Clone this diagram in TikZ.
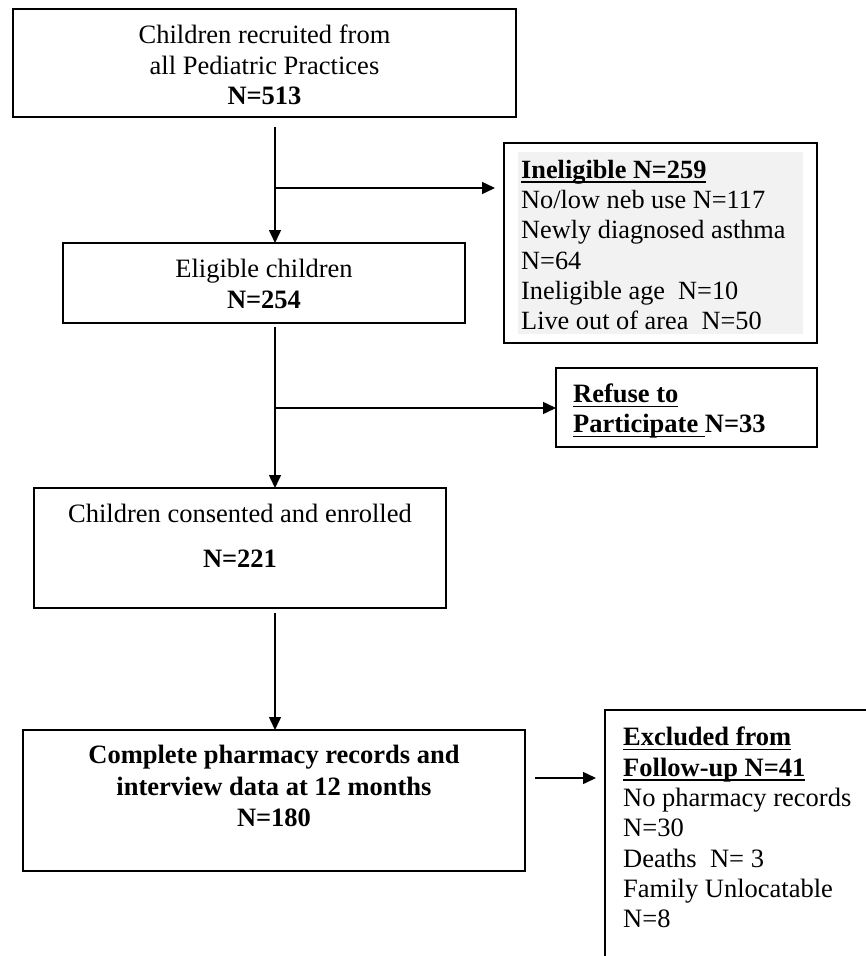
\documentclass[tikz,border=0pt]{standalone}
\usepackage{fontspec}
\setmainfont{Liberation Serif}
\usetikzlibrary{arrows.meta,calc}
\definecolor{boxgray}{HTML}{F2F2F2}
\newcommand{\ulx}[1]{\setbox0\hbox{#1}\rlap{\rule[-4.5pt]{\wd0}{1.8pt}}\box0}
\begin{document}
\begin{tikzpicture}[x=1pt,y=-1pt,
  box/.style={draw,line width=1.5pt,inner sep=0pt,outer sep=0pt,anchor=north west},
  ctxt/.style={inner sep=0pt,anchor=north,align=center,font=\fontsize{26.5}{30.5}\selectfont},
  ltxt/.style={inner sep=0pt,anchor=north west,align=left,font=\fontsize{26.3}{30.2}\selectfont},
  arr/.style={line width=1.5pt,-{Triangle[length=13pt,width=12pt]}}]
\useasboundingbox (0,0) rectangle (866,956);
\clip (0,0) rectangle (866,956);
% boxes
\node[box,minimum width=503pt,minimum height=108pt] (top) at (13,9) {};
\node[box,minimum width=313pt,minimum height=200pt] (inel) at (504,143) {};
\node[fill=boxgray,inner sep=0pt,outer sep=0pt,anchor=north west,minimum width=285pt,minimum height=182pt] (inelbg) at (518,152) {};
\node[box,minimum width=402pt,minimum height=80pt] (elig) at (63,243) {};
\node[box,minimum width=261pt,minimum height=79pt] (refuse) at (556,368) {};
\node[box,minimum width=412pt,minimum height=120pt] (cons) at (34,488) {};
\node[box,minimum width=502pt,minimum height=141pt] (comp) at (23,730) {};
\node[box,minimum width=320pt,minimum height=320pt] (excl) at (605,710) {};
% texts
\node[ctxt] (toptxt) at (264.5,25) {Children recruited from\\all Pediatric Practices\\\textbf{N=513}};
\node[ctxt] (eligtxt) at (264,259) {Eligible children\\\textbf{N=254}};
\node[ctxt] (constxt) at (240,504) {Children consented and enrolled\\[14.5pt]\textbf{N=221}};
\node[ctxt,font=\fontsize{26.5}{31.5}\selectfont\bfseries] (comptxt) at (274,745) {Complete pharmacy records and\\interview data at 12 months\\N=180};
\node[ltxt] (ineltxt) at (521,160) {\ulx{\textbf{Ineligible N=259}}\\No/low neb use N=117\\Newly diagnosed asthma\\N=64\\Ineligible age\ \ N=10\\Live out of area\ \ N=50};
\node[ltxt,font=\fontsize{26.5}{30}\selectfont] (reftxt) at (573,384) {\ulx{\textbf{Refuse to}}\\\ulx{\textbf{Participate\ }}\textbf{N=33}};
\node[ltxt,font=\fontsize{26.5}{30.3}\selectfont] (excltxt) at (623,727) {\ulx{\textbf{Excluded from}}\\\ulx{\textbf{Follow-up N=41}}\\No pharmacy records\\N=30\\Deaths\ \ N=\ 3\\Family Unlocatable\\N=8};
% connectors
\coordinate (s1) at (275,127);
\draw[arr] (s1) -- (s1 |- elig.north);
\coordinate (b1) at (275,188);
\draw[arr] (b1) -- ($(b1 -| inel.west)+(-9,0)$);
\coordinate (s2) at (275,327);
\draw[arr] (s2) -- (s2 |- cons.north);
\coordinate (b2) at (275,408);
\draw[arr] (b2) -- (b2 -| refuse.west);
\coordinate (s3) at (275,613);
\draw[arr] (s3) -- (s3 |- comp.north);
\coordinate (s4) at (535,778);
\draw[arr] (s4) -- ($(s4 -| excl.west)+(-9,0)$);
\end{tikzpicture}
\end{document}
